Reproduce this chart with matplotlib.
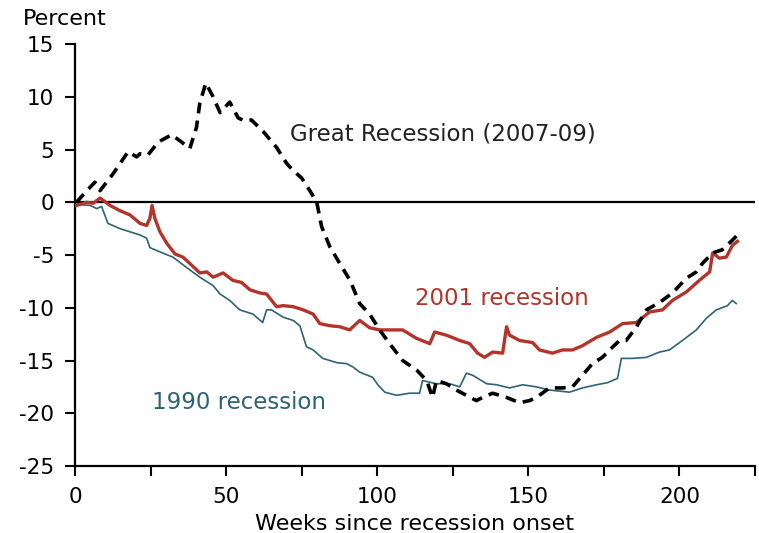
import matplotlib.pyplot as plt

plt.rcParams["axes.unicode_minus"] = False

# Great Recession (2007-09), weeks since onset and percent change
gr_weeks = [0.5, 3.9, 6.6, 8.3, 12.6, 17.6, 20.4, 21.5, 24.2, 27.5, 32, 35.3, 38, 40.2,
            41.3, 43.3, 45.7, 48, 51.2, 54, 56.2, 58.4, 62.3, 66.7, 70, 72.2, 75, 77.7,
            80, 81.6, 84.3, 87.6, 91, 94.2, 97.5, 100.8, 104.1, 108.4, 113, 116.4, 118.3,
            119.6, 122.9, 126.2, 129.5, 132.8, 134.9, 138.2, 142.8, 147.1, 150.4, 152.7,
            157, 161.3, 164.6, 167.9, 171.2, 174.5, 176.9, 180.2, 182.4, 185.8, 189.1,
            193.4, 197.7, 202.3, 205.6, 207.6, 211, 214.2, 217.5, 219.2]
gr_vals = [0, 1.1, 1.9, 1.1, 2.7, 4.8, 4.3, 4.6, 4.5, 5.7, 6.4, 5.7, 5.1, 7.1,
           9.4, 11.3, 10, 8.5, 9.5, 8, 7.7, 7.8, 6.7, 5.2, 3.7, 3.0, 2.3, 1.1,
           0, -2.3, -4.2, -5.8, -7.4, -9.6, -10.6, -12.1, -13.4, -15, -15.9, -16.9, -18.5,
           -16.9, -17.2, -17.8, -18.3, -18.8, -18.5, -18.1, -18.5, -19, -18.8, -18.5,
           -17.6, -17.6, -17.5, -16.4, -15.3, -14.7, -14, -13.1, -13.1, -11.8, -10.2,
           -9.5, -8.6, -7.2, -6.6, -5.8, -4.8, -4.5, -3.6, -3.1]

# 2001 recession
r01_weeks = [0.5, 3.9, 6, 8.3, 11.6, 14.9, 18.2, 21.5, 23.7, 24.8, 25.5, 26.4, 28.1, 30.4,
             33.1, 35.7, 38, 41.3, 43.6, 45.7, 49, 52.2, 55.1, 57.9, 61.2, 63.4, 66.7,
             68.9, 72.2, 75.5, 78.8, 81, 84.3, 87.6, 90.9, 94.2, 97.5, 100.8, 104.1, 108.4,
             113, 117.4, 119, 122.9, 127.3, 130.6, 133.2, 135.5, 138.2, 141.5, 142.8,
             143.8, 147.1, 151.4, 153.7, 158, 161.3, 164.6, 167.9, 172.6, 176.9, 181.2,
             185.8, 190.1, 194.4, 197.7, 202.3, 206.6, 210, 211, 213.2, 215.5, 217.5, 219.2]
r01_vals = [-0.3, 0, -0.1, 0.4, -0.3, -0.8, -1.2, -2, -2.2, -1.5, -0.3, -1.5, -2.8, -3.9,
            -4.9, -5.2, -5.8, -6.7, -6.6, -7.1, -6.7, -7.4, -7.6, -8.3, -8.6, -8.7, -9.9,
            -9.8, -9.9, -10.2, -10.6, -11.5, -11.7, -11.8, -12.1, -11.2, -11.9, -12.1, -12.1, -12.1,
            -12.9, -13.4, -12.3, -12.6, -13.1, -13.4, -14.3, -14.7, -14.2, -14.3, -11.8,
            -12.6, -13.1, -13.3, -14, -14.3, -14, -14, -13.6, -12.8, -12.3, -11.5,
            -11.4, -10.4, -10.2, -9.3, -8.5, -7.4, -6.6, -4.8, -5.3, -5.2, -4.1, -3.7]

# 1990 recession
r90_weeks = [0.5, 5, 7.2, 8.8, 10.9, 14.9, 18.2, 21.5, 23.7, 24.8, 28.1, 32.4, 37, 41.3,
             45.7, 48, 51.2, 54.5, 58.9, 62.1, 63.4, 65, 68.9, 72.2, 74.4, 76.6, 78.8, 82,
             86.6, 89.9, 91.9, 94.2, 98.5, 100.2, 102.5, 106.4, 110.7, 114, 115, 119.6,
             124, 127.3, 129.5, 131.6, 136.2, 139.5, 143.8, 148.1, 152.7, 157, 163.6,
             167.9, 172.6, 176.2, 179.5, 180.8, 184.5, 189.1, 193.4, 196.7, 201, 205.6,
             208.9, 212.2, 215.9, 217.5, 218.8]
r90_vals = [-0.2, -0.3, -0.6, -0.4, -2, -2.5, -2.8, -3.1, -3.4, -4.3, -4.7, -5.2, -6.2, -7.1,
            -7.9, -8.7, -9.3, -10.2, -10.6, -11.4, -10.2, -10.2, -10.9, -11.2, -11.7, -13.7, -14, -14.8,
            -15.2, -15.3, -15.6, -16.1, -16.6, -17.3, -18, -18.3, -18.1, -18.1, -16.9, -17.2,
            -17.2, -17.5, -16.2, -16.4, -17.2, -17.3, -17.6, -17.3, -17.5, -17.8, -18,
            -17.6, -17.3, -17.1, -16.7, -14.8, -14.8, -14.7, -14.2, -14, -13.1, -12.1,
            -11, -10.2, -9.8, -9.3, -9.6]

red = "#b3342b"
teal = "#2d6373"

fig = plt.figure(figsize=(7.59, 5.33), dpi=100)
ax = fig.add_axes([0.0988, 0.1257, 0.8959, 0.7917])

ax.axhline(0, color="black", lw=1.6, zorder=1)
ax.plot(r90_weeks, r90_vals, color=teal, lw=1.2, zorder=2)
ax.plot(r01_weeks, r01_vals, color=red, lw=2.4, zorder=3)
ax.plot(gr_weeks, gr_vals, color="black", lw=2.6, ls=(0, (3, 2)), zorder=4)

ax.set_xlim(0, 225)
ax.set_ylim(-25, 15)
ax.set_yticks(range(-25, 16, 5))
ax.set_xticks([0, 50, 100, 150, 200])
ax.set_xticks([25, 75, 125, 175, 225], minor=True)
ax.tick_params(axis="both", labelsize=15.5, direction="out", width=1.5, length=7, colors="black")
ax.tick_params(axis="x", which="minor", width=1.5, length=7)
ax.tick_params(axis="x", pad=8)
ax.tick_params(axis="y", pad=8)

for s in ["top", "right"]:
    ax.spines[s].set_visible(False)
for s in ["left", "bottom"]:
    ax.spines[s].set_linewidth(1.6)

ax.set_xlabel("Weeks since recession onset", fontsize=16, labelpad=5)
fig.text(0.03, 0.945, "Percent", fontsize=16, ha="left", va="bottom")

ax.text(71.1, 6.5, "Great Recession (2007-09)", fontsize=16.5, color="#222222", va="center")
ax.text(112.4, -9.1, "2001 recession", fontsize=16.5, color=red, va="center")
ax.text(25.5, -19.0, "1990 recession", fontsize=16.5, color=teal, va="center")

fig.savefig("out.png", dpi=100)
